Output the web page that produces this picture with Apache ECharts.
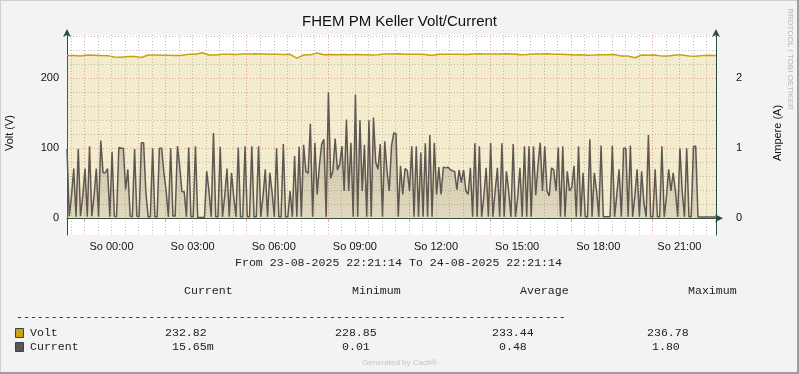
<!DOCTYPE html>
<html><head><meta charset="utf-8">
<script src="https://cdn.jsdelivr.net/npm/echarts@6/dist/echarts.min.js"></script>
<style>html,body{margin:0;padding:0;background:#F3F3F3}#c{width:799px;height:374px}</style>
</head><body><div id="c"></div>
<script>
// ---------- data ----------
const chartTitle = 'FHEM PM Keller Volt/Current';
const startHour = 22 + 21 / 60 + 14 / 3600;   // Sa 23-08-2025 22:21:14, hours from Sa 00:00
const spanHours = 24;
const currentStepMinutes = 5;
const voltStepMinutes = 15;

const currentValues = [
  0.99,0.03,0.32,0.71,0.02,0.99,0.03,0.32,0.71,0.02,
  1.03,0.03,0.32,0.71,0.02,1.11,0.65,0.65,0.71,0.02,
  0.95,0.03,0.02,1.01,1.00,1.00,0.41,0.70,0.03,0.02,
  0.99,0.03,0.02,1.08,1.08,0.37,0.02,0.02,1.00,0.02,
  0.02,1.00,1.00,0.65,0.39,0.02,1.00,0.03,0.03,1.03,
  0.75,0.38,0.38,0.02,1.01,0.02,0.02,1.03,0.01,0.01,
  0.01,0.01,0.67,0.39,0.02,1.22,0.02,0.02,1.02,0.02,
  0.32,0.71,0.02,0.65,0.30,0.02,1.01,0.02,0.02,1.03,
  0.02,0.02,1.03,0.02,0.02,1.03,0.02,0.32,0.70,0.02,
  0.65,0.37,0.02,1.00,0.02,0.02,1.06,0.02,0.02,0.39,
  0.02,0.89,0.02,1.02,0.02,1.05,0.67,0.64,1.35,0.02,
  1.08,0.34,0.75,1.06,1.13,0.02,1.80,0.57,0.68,1.14,
  0.69,0.77,1.03,0.39,1.41,0.39,1.08,0.02,1.77,0.02,
  1.40,0.39,1.05,0.02,1.40,0.02,1.44,0.80,0.70,1.06,
  0.02,1.10,0.68,0.39,1.03,1.22,1.21,0.02,0.75,0.34,
  0.71,0.68,0.39,1.03,0.02,1.03,0.02,0.94,0.02,1.07,
  0.02,1.19,0.02,1.08,0.34,0.73,0.34,0.73,0.72,0.73,
  0.70,0.68,0.67,0.41,0.69,0.51,0.69,0.39,0.34,0.72,
  0.02,1.07,0.02,1.03,0.02,0.32,0.72,0.02,1.08,0.02,
  0.39,0.72,0.02,1.07,0.02,0.67,0.39,0.02,1.06,0.02,
  0.30,0.72,0.02,1.03,0.02,1.03,0.02,1.03,0.33,0.75,
  1.08,0.39,1.03,0.39,0.32,0.72,0.69,0.39,1.01,0.02,
  1.03,0.02,0.67,0.39,0.44,0.75,0.02,1.03,0.02,0.65,
  0.02,0.02,1.13,0.02,0.65,0.39,0.02,1.04,0.02,0.02,
  0.02,0.02,1.04,0.02,0.34,0.70,0.02,1.00,1.00,0.02,
  1.04,0.02,0.32,0.70,0.02,0.67,0.22,0.02,1.19,0.02,
  0.02,0.70,0.02,0.02,1.03,0.02,0.30,0.70,0.39,0.65,
  0.39,0.02,1.00,0.39,0.02,1.00,0.02,0.02,1.03,1.03,
  0.016,0.016,0.016,0.016,0.016,0.016,0.016,0.016,0.016
];

const voltValues = [
  232.8,232.6,231.9,233.4,233.2,232.7,232.5,230.6,230.3,231.4,
  231.3,229.9,233.3,233.5,232.9,233.1,232.8,233.0,234.3,234.5,
  236.5,233.5,233.3,234.4,234.6,234.2,235.0,234.8,235.1,234.9,
  234.3,234.5,234.2,234.4,229.0,233.4,233.6,236.3,233.9,234.1,
  233.8,234.0,233.7,234.1,233.8,233.3,233.6,235.0,234.8,235.1,
  234.4,234.3,234.6,234.2,232.8,234.4,234.5,234.3,234.6,234.2,
  234.9,235.1,234.8,235.0,234.9,235.1,234.8,233.9,234.0,235.0,
  234.8,235.1,234.3,234.5,234.2,233.4,233.6,233.2,233.5,233.9,
  233.8,234.0,231.9,232.1,229.5,233.4,233.2,233.5,231.8,232.0,
  233.3,233.5,231.9,231.7,232.7,232.9,232.8
];

const xLabelHours = [24, 27, 30, 33, 36, 39, 42, 45];
const xLabels = ['So 00:00','So 03:00','So 06:00','So 09:00','So 12:00','So 15:00','So 18:00','So 21:00'];
const majorHourLines = [23, 26, 29, 32, 35, 38, 41, 44];
const voltTicks = [0, 100, 200];
const ampTicks = [0, 1, 2];
const voltMajorGrid = [0, 100, 200];

const leftAxisName = 'Volt (V)';
const rightAxisName = 'Ampere (A)';
const watermark = 'RRDTOOL / TOBI OETIKER';
const rangeText = 'From 23-08-2025 22:21:14 To 24-08-2025 22:21:14';
const statHeaders = ['Current', 'Minimum', 'Average', 'Maximum'];
const seriesNames = ['Volt', 'Current'];
const voltStats = ['232.82', '228.85', '233.44', '236.78'];
const currentStats = ['15.65m', '0.01', '0.48', '1.80'];
const footer = 'Generated by Cacti®';

// ---------- build ----------
const voltData = voltValues.map((v, i) => [startHour + i * voltStepMinutes / 60, v]);
const currentData = currentValues.map((v, i) => [startHour + i * currentStepMinutes / 60, v]);

const MINOR = 'rgba(140,140,140,0.55)';
const MAJOR = 'rgba(222,85,85,0.55)';
const AXIS = '#2C4D43';
const DOT = [1, 2];

const minorHourLines = [];
for (let h = Math.ceil(startHour * 2) / 2; h < startHour + spanHours; h += 0.5) {
  if (majorHourLines.indexOf(h) < 0) minorHourLines.push(h);
}
const minorVoltLines = [];
for (let v = 20; v <= 260; v += 20) {
  if (voltMajorGrid.indexOf(v) < 0) minorVoltLines.push(v);
}

const mono = '"Liberation Mono", "DejaVu Sans Mono", monospace';
const sans = '"Liberation Sans", Arial, sans-serif';
const headerX = [184, 352, 520, 688];
const voltX = [165, 335, 492, 647];
const curX = [172, 342, 499, 652];

const graphics = [
  { type: 'text', left: 'center', top: 14, style: { text: chartTitle, font: '15px ' + sans, fill: '#111' } },
  { type: 'text', x: 10, y: 133, rotation: Math.PI / 2, style: { text: leftAxisName, font: '11px ' + sans, fill: '#111', align: 'center', verticalAlign: 'middle' } },
  { type: 'text', x: 778, y: 133, rotation: Math.PI / 2, style: { text: rightAxisName, font: '11px ' + sans, fill: '#111', align: 'center', verticalAlign: 'middle' } },
  { type: 'text', x: 790, y: 59, rotation: -Math.PI / 2, style: { text: watermark, font: '8px ' + sans, fill: '#b8b8b8', align: 'center', verticalAlign: 'middle' } },
  { type: 'text', x: 235, y: 263, style: { text: rangeText, font: '11.6px ' + mono, fill: '#222', align: 'left', verticalAlign: 'middle' } },
  { type: 'text', x: 16, y: 317, style: { text: '-'.repeat(79), font: '11.6px ' + mono, fill: '#222', align: 'left', verticalAlign: 'middle' } },
  { type: 'rect', shape: { x: 15.5, y: 328.5, width: 8, height: 9 }, style: { fill: '#C8A213', stroke: '#2C4D43', lineWidth: 1 } },
  { type: 'rect', shape: { x: 15.5, y: 342.5, width: 8, height: 9 }, style: { fill: '#5A5652', stroke: '#2C4D43', lineWidth: 1 } },
  { type: 'text', x: 30, y: 333, style: { text: seriesNames[0], font: '11.6px ' + mono, fill: '#222', verticalAlign: 'middle' } },
  { type: 'text', x: 30, y: 347, style: { text: seriesNames[1], font: '11.6px ' + mono, fill: '#222', verticalAlign: 'middle' } },
  { type: 'text', left: 'center', top: 359, style: { text: footer, font: '8px ' + sans, fill: '#c4c4c4' } },
  { type: 'line', shape: { x1: 0, y1: 0.5, x2: 799, y2: 0.5 }, style: { stroke: '#CFCFCF', lineWidth: 1 } },
  { type: 'line', shape: { x1: 0.5, y1: 0, x2: 0.5, y2: 374 }, style: { stroke: '#CFCFCF', lineWidth: 1 } },
  { type: 'line', shape: { x1: 0, y1: 373, x2: 799, y2: 373 }, style: { stroke: '#9E9E9E', lineWidth: 2 } },
  { type: 'line', shape: { x1: 798, y1: 0, x2: 798, y2: 374 }, style: { stroke: '#9E9E9E', lineWidth: 2 } }
];
statHeaders.forEach((t, i) => graphics.push({ type: 'text', x: headerX[i], y: 291, style: { text: t, font: '11.6px ' + mono, fill: '#222', verticalAlign: 'middle' } }));
voltStats.forEach((t, i) => graphics.push({ type: 'text', x: voltX[i], y: 333, style: { text: t, font: '11.6px ' + mono, fill: '#222', verticalAlign: 'middle' } }));
currentStats.forEach((t, i) => graphics.push({ type: 'text', x: curX[i], y: 347, style: { text: t, font: '11.6px ' + mono, fill: '#222', verticalAlign: 'middle' } }));

const hiddenAxisParts = { axisLine: { show: false }, axisLabel: { show: false } };

const chart = echarts.init(document.getElementById('c'), null, { renderer: 'canvas' });
chart.setOption({
  animation: false,
  backgroundColor: '#F3F3F3',
  grid: { left: 67, right: 83, top: 35, bottom: 139, show: true, backgroundColor: '#FFFFFF', borderWidth: 0 },
  xAxis: [
    {
      type: 'value', min: startHour, max: startHour + spanHours,
      axisLine: { show: true, lineStyle: { color: AXIS, width: 1 }, symbol: ['none', 'arrow'], symbolSize: [6, 8], symbolOffset: [0, 7] },
      axisTick: { show: true, customValues: majorHourLines, length: 3, lineStyle: { color: MAJOR } },
      axisLabel: { customValues: xLabelHours, formatter: v => xLabels[xLabelHours.indexOf(Math.round(v))] || '', color: '#111', fontFamily: sans, fontSize: 11, margin: 6 },
      splitLine: { show: true, lineStyle: { color: MAJOR, type: DOT, width: 1 } },
      z: 1
    },
    Object.assign({
      type: 'value', min: startHour, max: startHour + spanHours,
      axisTick: { show: false, customValues: minorHourLines },
      splitLine: { show: true, lineStyle: { color: MINOR, type: DOT, width: 1 } },
      z: 0
    }, hiddenAxisParts)
  ],
  yAxis: [
    {
      type: 'value', min: -24, max: 262, position: 'left',
      axisLine: { show: true, onZero: false, lineStyle: { color: AXIS, width: 1 }, symbol: ['none', 'arrow'], symbolSize: [6, 8], symbolOffset: [0, 6] },
      axisTick: { show: false, customValues: voltMajorGrid },
      axisLabel: { customValues: voltTicks, color: '#111', fontFamily: sans, fontSize: 11, margin: 8 },
      splitLine: { show: true, lineStyle: { color: MAJOR, type: DOT, width: 1 } },
      z: 1
    },
    {
      type: 'value', min: -0.24, max: 2.62, position: 'right',
      axisLine: { show: true, onZero: false, lineStyle: { color: AXIS, width: 1 }, symbol: ['none', 'arrow'], symbolSize: [6, 8], symbolOffset: [0, 6] },
      axisTick: { show: false },
      axisLabel: { customValues: ampTicks, color: '#111', fontFamily: sans, fontSize: 11, margin: 20 },
      splitLine: { show: false },
      z: 1
    },
    Object.assign({
      type: 'value', min: -24, max: 262, position: 'left',
      axisTick: { show: false, customValues: minorVoltLines },
      splitLine: { show: true, lineStyle: { color: MINOR, type: DOT, width: 1 } },
      z: 0
    }, hiddenAxisParts)
  ],
  series: [
    {
      type: 'line', name: seriesNames[0], data: voltData, yAxisIndex: 0, z: 3, showSymbol: false, silent: true,
      lineStyle: { color: '#C9A10E', width: 1.5 }, itemStyle: { color: '#C9A10E' },
      areaStyle: { color: 'rgba(205,165,25,0.3)' }
    },
    {
      type: 'line', name: seriesNames[1], data: currentData, yAxisIndex: 1, z: 4, showSymbol: false, silent: true,
      lineStyle: { color: '#5E5852', width: 1.5 }, itemStyle: { color: '#5E5852' },
      areaStyle: { color: new echarts.graphic.LinearGradient(0, 0, 0, 1, [
        { offset: 0, color: 'rgba(95,88,78,0.5)' }, { offset: 1, color: 'rgba(95,88,78,0.18)' }]) }
    }
  ],
  graphic: graphics
});
</script></body></html>
